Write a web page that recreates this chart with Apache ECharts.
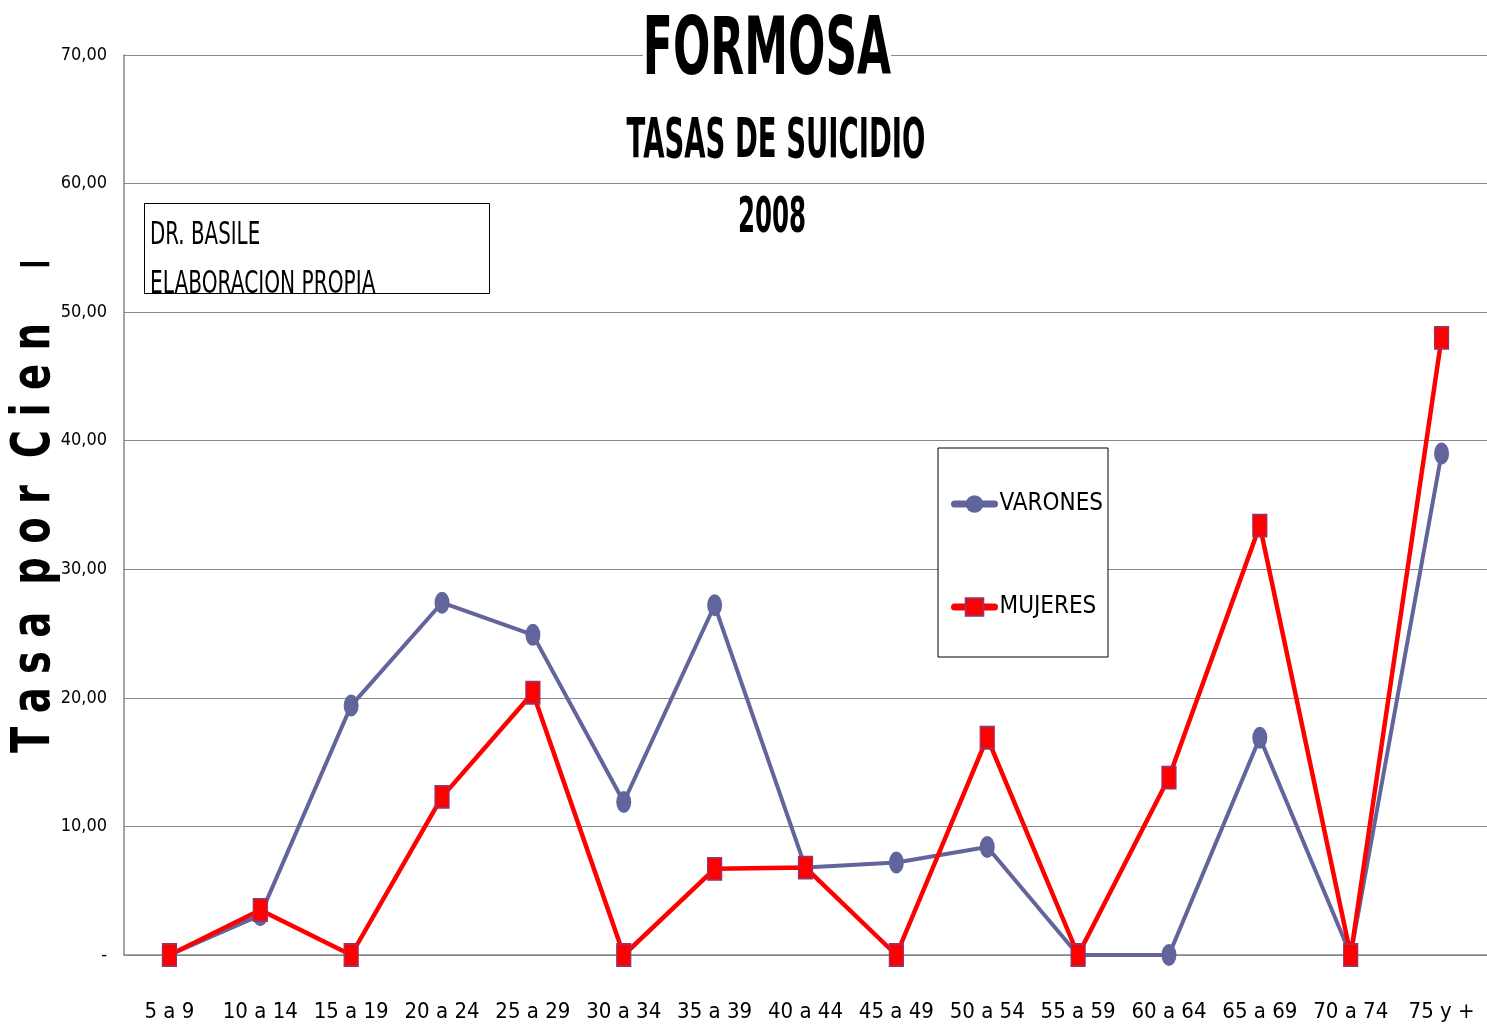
<!DOCTYPE html>
<html>
<head>
<meta charset="utf-8">
<script src="https://cdn.jsdelivr.net/npm/echarts@6/dist/echarts.min.js"></script>
<style>
  html, body { margin: 0; padding: 0; background: #fff; }
  #main { width: 1487px; height: 1032px; }
</style>
</head>
<body>
<div id="main"></div>
<script>
// age groups
var ageGroups = ['5 a 9', '10 a 14', '15 a 19', '20 a 24', '25 a 29', '30 a 34', '35 a 39', '40 a 44',
  '45 a 49', '50 a 54', '55 a 59', '60 a 64', '65 a 69', '70 a 74', '75 y +'];

// rates per 100k
var varones = [0, 3.1, 19.4, 27.4, 24.9, 11.9, 27.2, 6.8, 7.2, 8.4, 0, 0, 16.9, 0, 39.0];
var mujeres = [0, 3.5, 0, 12.3, 20.4, 0, 6.7, 6.8, 0, 16.9, 0, 13.8, 33.4, 0, 48.0];

var yTicks = [0, 10, 20, 30, 40, 50, 60, 70];

var cond = "'DejaVu Sans Condensed', 'DejaVu Sans', sans-serif";
var dv = "'DejaVu Sans', sans-serif";

var myChart = echarts.init(document.getElementById('main'));

// squeezed text helper (the original font is very narrow)
function sqText(txt, x, y, size, bold, sx, extra) {
  var st = {
    text: txt, fontFamily: dv, fontSize: size, fontWeight: bold ? 'bold' : 'normal',
    fill: '#000', textAlign: 'left', textVerticalAlign: 'middle'
  };
  if (extra) for (var k in extra) st[k] = extra[k];
  return { type: 'text', x: x, y: y, scaleX: sx, style: st, z: 20 };
}

myChart.setOption({
  backgroundColor: '#fff',
  animation: false,
  grid: { left: 124, right: 0, top: 55, bottom: 77, containLabel: false },
  legend: {
    orient: 'vertical',
    left: 938, top: 448,
    padding: [44, 5, 38, 13],
    itemGap: 79,
    itemWidth: 40, itemHeight: 22,
    borderColor: '#000', borderWidth: 1,
    backgroundColor: '#fff',
    lineStyle: { width: 7, cap: 'round' },
    textStyle: { fontFamily: cond, fontSize: 24, color: '#000' },
    data: ['VARONES', 'MUJERES']
  },
  xAxis: {
    type: 'category',
    data: ageGroups,
    boundaryGap: true,
    axisLine: { lineStyle: { color: '#888', width: 1.5 } },
    axisTick: { show: false },
    axisLabel: { fontFamily: cond, fontSize: 22, color: '#000', margin: 46, interval: 0 }
  },
  yAxis: {
    type: 'value',
    min: 0, max: 70, interval: 10,
    axisLine: { show: true, lineStyle: { color: '#888', width: 1.5 } },
    axisTick: { show: false },
    splitLine: { lineStyle: { color: '#888', width: 1.2 } },
    axisLabel: {
      fontFamily: cond, fontSize: 18, color: '#000', margin: 17,
      formatter: function (v) {
        if (yTicks.indexOf(v) < 0) return '';
        return v === 0 ? '-' : v.toFixed(2).replace('.', ',');
      }
    }
  },
  series: [
    {
      name: 'VARONES',
      type: 'line',
      data: varones,
      symbol: 'circle',
      symbolSize: [15, 22],
      color: '#62649c',
      lineStyle: { color: '#62649c', width: 4 },
      itemStyle: { color: '#62649c' },
      z: 2
    },
    {
      name: 'MUJERES',
      type: 'line',
      data: mujeres,
      symbol: 'rect',
      symbolSize: [14, 22],
      color: '#ff0000',
      lineStyle: { color: '#ff0000', width: 4.5 },
      itemStyle: { color: '#ff0000', borderColor: '#993366', borderWidth: 1.5 },
      z: 3
    }
  ],
  graphic: [
    // titles
    {
      type: 'text', x: 767, y: 53, scaleX: 0.55,
      style: {
        text: 'FORMOSA', fontFamily: dv, fontSize: 80, fontWeight: 'bold', fill: '#000',
        textAlign: 'center', textVerticalAlign: 'middle', backgroundColor: '#fff'
      },
      z: 20
    },
    {
      type: 'text', x: 776, y: 143, scaleX: 0.5,
      style: {
        text: 'TASAS DE SUICIDIO', fontFamily: dv, fontSize: 55, fontWeight: 'bold', fill: '#000',
        textAlign: 'center', textVerticalAlign: 'middle'
      },
      z: 20
    },
    {
      type: 'text', x: 772, y: 219, scaleX: 0.5,
      style: {
        text: '2008', fontFamily: dv, fontSize: 49, fontWeight: 'bold', fill: '#000',
        textAlign: 'center', textVerticalAlign: 'middle'
      },
      z: 20
    },
    // y axis title, letter-spaced and cut by the page top
    {
      type: 'text',
      x: 8, y: 753,
      rotation: Math.PI / 2,
      scaleX: 0.713,
      style: {
        text: 'T a s a  p o r  C i e n    m i l',
        fontFamily: dv, fontWeight: 'bold', fontSize: 54, fill: '#000',
        textAlign: 'left', textVerticalAlign: 'top'
      },
      z: 10
    },
    {
      type: 'rect',
      shape: { x: 0, y: 0, width: 60, height: 262 },
      style: { fill: '#fff' },
      z: 11
    },
    // author box
    {
      type: 'rect',
      shape: { x: 144.5, y: 203.5, width: 345, height: 90 },
      style: { fill: 'none', stroke: '#000', lineWidth: 1 },
      z: 10
    },
    sqText('DR. BASILE', 150, 236, 32, false, 0.62),
    sqText('ELABORACION PROPIA', 150, 285, 32, false, 0.63)
  ]
});
</script>
</body>
</html>
